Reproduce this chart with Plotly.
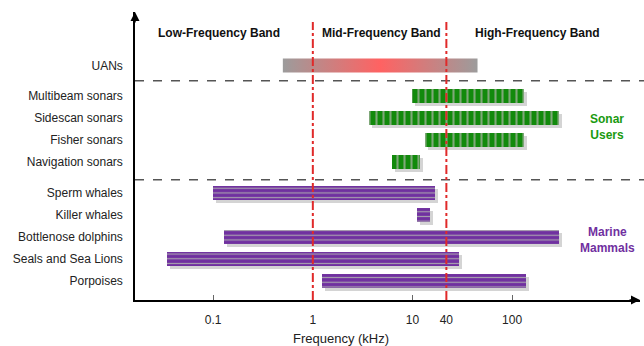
import plotly.graph_objects as go

# ---------------- data ----------------
uan_label = "UANs"
uan_range = [0.5, 45.0]

sonar_labels = ["Multibeam sonars", "Sidescan sonars", "Fisher sonars", "Navigation sonars"]
sonar_low = [10.0, 3.7, 13.5, 6.2]
sonar_high = [133.0, 298.0, 133.0, 12.0]

mammal_labels = ["Sperm whales", "Killer whales", "Bottlenose dolphins", "Seals and Sea Lions", "Porpoises"]
mammal_low = [0.10, 11.0, 0.127, 0.034, 1.25]
mammal_high = [17.0, 15.1, 298.0, 29.6, 139.0]

# row positions (numeric y, top to bottom)
uan_pos = 9.8
sonar_pos = [8.4, 7.4, 6.4, 5.4]
mammal_pos = [4.0, 3.0, 2.0, 1.0, 0.0]
group_separators = [9.1, 4.6]

tick_vals = [0.1, 1, 10, 21.9, 100]
tick_text = ["0.1", "1", "10", "40", "100"]
band_edges = [1, 21.9]
band_names = ["Low-Frequency Band", "Mid-Frequency Band", "High-Frequency Band"]

# ---------------- style ----------------
FONT = "Liberation Sans, Arial, sans-serif"
GREEN = "#128a0c"
GREEN_STRIPE = "#7fa879"
PURPLE = "#7030a0"
PURPLE_STRIPE = "#a8a0ae"
SHADOW = "#d4d4d4"
BAR_W = 0.64

W, H = 644, 346
ML, MR, MT, MB = 135, 4, 12, 46
plot_w = W - ML - MR
plot_h = H - MT - MB
x_range = [-1.785, 3.284]
y_range = [-0.864, 12.23]

px_per_dec = plot_w / (x_range[1] - x_range[0])
px_per_unit = plot_h / (y_range[1] - y_range[0])
shadow_fx = 10 ** (3 / px_per_dec)
shadow_dy = 3 / px_per_unit

fig = go.Figure()


def add_bars(lows, highs, pos, color, stripe, shape, size, solidity):
    # shadows
    fig.add_trace(go.Bar(
        orientation="h",
        base=[l * shadow_fx for l in lows],
        x=[h * shadow_fx - l * shadow_fx for l, h in zip(lows, highs)],
        y=[p - shadow_dy for p in pos],
        width=BAR_W,
        marker=dict(color=SHADOW, line=dict(width=0)),
        hoverinfo="skip", showlegend=False,
    ))
    fig.add_trace(go.Bar(
        orientation="h",
        base=lows,
        x=[h - l for l, h in zip(lows, highs)],
        y=pos,
        width=BAR_W,
        marker=dict(color=color, line=dict(width=0),
                    pattern=dict(shape=shape, fgcolor=stripe, bgcolor=color,
                                 size=size, solidity=solidity, fillmode="replace")),
        showlegend=False,
    ))


add_bars(sonar_low, sonar_high, sonar_pos, GREEN, GREEN_STRIPE, "|", 7, 0.3)
add_bars(mammal_low, mammal_high, mammal_pos, PURPLE, PURPLE_STRIPE, "-", 4.7, 0.25)

# UANs gradient bar
half = BAR_W / 2
fig.add_trace(go.Scatter(
    x=[uan_range[0], uan_range[1], uan_range[1], uan_range[0], uan_range[0]],
    y=[uan_pos - half, uan_pos - half, uan_pos + half, uan_pos + half, uan_pos - half],
    mode="lines", line=dict(width=0), fill="toself",
    fillgradient=dict(type="horizontal",
                      colorscale=[[0, "#9c9c9c"], [0.5, "#ff6262"], [1, "#9c9c9c"]]),
    showlegend=False, hoverinfo="skip",
))

shapes = []
for e in band_edges:
    shapes.append(dict(type="line", xref="x", yref="paper",
                       x0=e, x1=e, y0=0, y1=(plot_h - 10) / plot_h,
                       line=dict(color="#e02a2a", width=2, dash="dashdot"), layer="above"))
for s in group_separators:
    shapes.append(dict(type="line", xref="paper", yref="y",
                       x0=0, x1=(W - ML) / plot_w, y0=s, y1=s,
                       line=dict(color="#555555", width=1.5, dash="dash"), layer="below"))

annotations = []
band_x_px = [219, 381, 537]
for name, xp in zip(band_names, band_x_px):
    annotations.append(dict(text="<b>%s</b>" % name, xref="paper", yref="paper",
                            x=(xp - ML) / plot_w, y=(plot_h - 21) / plot_h,
                            xanchor="center", yanchor="middle",
                            showarrow=False, font=dict(family=FONT, size=12, color="#111111")))
annotations.append(dict(text="<b>Sonar<br>Users</b>", xref="paper", yref="paper",
                        x=(607 - ML) / plot_w, y=(plot_h - 115) / plot_h, showarrow=False,
                        xanchor="center", yanchor="middle",
                        font=dict(family=FONT, size=12, color="#1a9a10")))
annotations.append(dict(text="<b>Marine<br>Mammals</b>", xref="paper", yref="paper",
                        x=(607 - ML) / plot_w, y=(plot_h - 228) / plot_h, showarrow=False,
                        xanchor="center", yanchor="middle",
                        font=dict(family=FONT, size=12, color="#7030a0")))
annotations.append(dict(text="Frequency (kHz)", xref="paper", yref="paper",
                        x=(341 - ML) / plot_w, y=0, yshift=-38, showarrow=False,
                        xanchor="center", yanchor="middle",
                        font=dict(family=FONT, size=13, color="#222222")))
# axis arrows
annotations.append(dict(text="", xref="paper", yref="paper", x=1, y=0, ax=-12, ay=0,
                        showarrow=True, arrowhead=2, arrowsize=1.2, arrowwidth=1.5, arrowcolor="black"))
annotations.append(dict(text="", xref="paper", yref="paper", x=0, y=1, ax=0, ay=12,
                        showarrow=True, arrowhead=2, arrowsize=1.2, arrowwidth=1.5, arrowcolor="black"))

fig.update_layout(
    width=W, height=H,
    margin=dict(l=ML, r=MR, t=MT, b=MB),
    paper_bgcolor="white", plot_bgcolor="white",
    barmode="overlay", bargap=0,
    shapes=shapes, annotations=annotations,
    font=dict(family=FONT, size=12, color="#222222"),
    xaxis=dict(type="log", range=x_range, showgrid=False, zeroline=False,
               showline=True, linecolor="black", linewidth=1.5,
               ticks="inside", ticklen=5, tickcolor="#666666", tickwidth=1,
               tickvals=tick_vals, ticktext=tick_text, ticklabelstandoff=8,
               tickfont=dict(family=FONT, size=12, color="#222222")),
    yaxis=dict(range=y_range, showgrid=False, zeroline=False,
               showline=True, linecolor="black", linewidth=1.5, ticks="",
               tickvals=[uan_pos] + sonar_pos + mammal_pos,
               ticktext=[uan_label] + sonar_labels + mammal_labels,
               ticklabelstandoff=8,
               tickfont=dict(family=FONT, size=12, color="#222222")),
)

fig.write_html("out.html")
